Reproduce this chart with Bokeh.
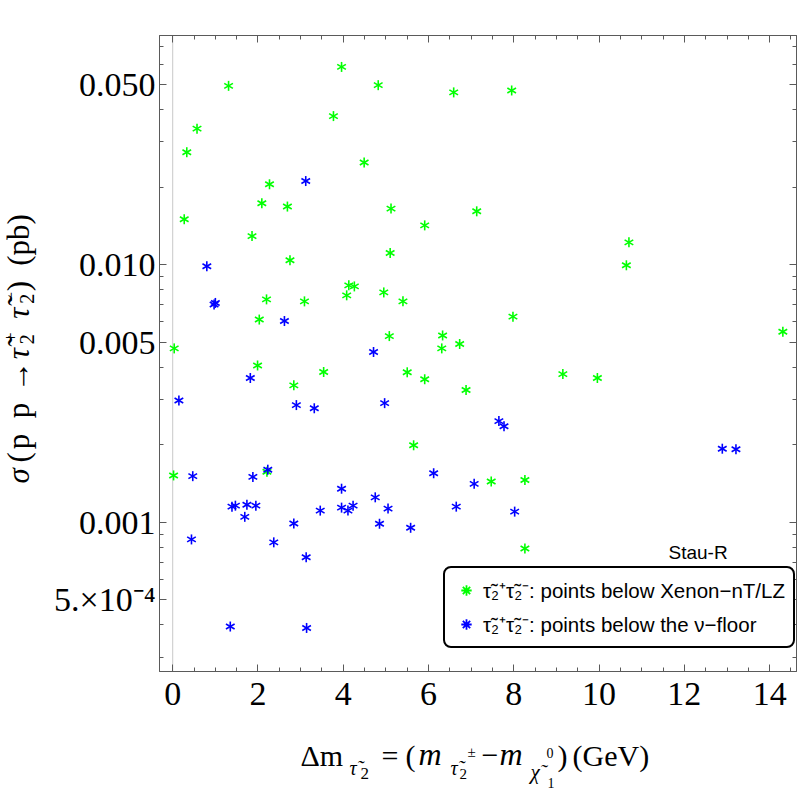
import math
from bokeh.plotting import figure
from bokeh.layouts import row, column
from bokeh.models import (ColumnDataSource, Label, Legend, LegendItem, LinearAxis, LogAxis,
                          SingleIntervalTicker, FixedTicker, CustomJSTickFormatter, Span, Range1d)
from bokeh.embed import file_html
from bokeh.resources import INLINE

# ---------------- data ----------------
green_dm = [3.96, 4.82, 1.31, 3.77, 0.57, 0.33, 4.49, 2.27, 0.27, 2.09, 2.69, 1.86, 2.75,
            6.59, 7.95, 5.12, 5.91, 7.13, 5.10, 10.70, 10.64, 4.13, 4.26, 4.08, 4.95, 5.40,
            2.20, 3.09, 2.03, 5.08, 0.035, 1.99, 3.54, 2.84, 7.98, 6.33, 6.31, 6.73, 5.50,
            5.91, 6.88, 9.15, 9.96, 5.65, 14.31, 0.02, 2.21, 7.47, 8.26, 8.26]
green_sigma = [0.0585, 0.0497, 0.0494, 0.0377, 0.0337, 0.0273, 0.0249, 0.0205, 0.0150, 0.0173,
               0.0168, 0.0129, 0.0104, 0.0466, 0.0474, 0.0165, 0.0142, 0.0161, 0.0111, 0.0122,
               0.00994, 0.00831, 0.00823, 0.0076, 0.0078, 0.0072, 0.00733, 0.0072, 0.00612,
               0.00528, 0.00473, 0.00406, 0.00383, 0.0034, 0.00628, 0.00531, 0.00473, 0.00492,
               0.00382, 0.00359, 0.00326, 0.00376, 0.00363, 0.00199, 0.00549, 0.00152, 0.00157,
               0.00144, 0.00146, 0.000791]

blue_dm = [3.12, 0.80, 0.97, 1.00, 2.62, 4.71, 1.82, 0.145, 2.90, 3.32, 4.97, 7.65, 7.77,
           0.47, 1.88, 2.23, 3.96, 1.39, 1.47, 1.74, 1.95, 1.69, 3.46, 3.96, 4.11, 4.23, 4.75,
           5.05, 2.84, 4.85, 0.44, 2.37, 3.13, 1.35, 3.14, 6.12, 7.07, 6.65, 8.02, 5.58, 8.85,
           9.42, 12.89, 13.21]
blue_sigma = [0.0211, 0.00985, 0.0070, 0.0071, 0.00604, 0.00458, 0.00363, 0.00297, 0.00285,
              0.00277, 0.0029, 0.00247, 0.00236, 0.00151, 0.00150, 0.0016, 0.00135, 0.00115,
              0.00116, 0.00117, 0.00116, 0.00105, 0.00111, 0.00114, 0.00111, 0.00116, 0.00125,
              0.00113, 0.000989, 0.000987, 0.000858, 0.000836, 0.000732, 0.000394, 0.000389,
              0.00155, 0.00141, 0.00115, 0.00110, 0.000952, 0.000435, 0.000433, 0.00193, 0.00192]

x_tick_values = [0, 2, 4, 6, 8, 10, 12, 14]
y_tick_values = [0.0005, 0.001, 0.005, 0.01, 0.05]
y_tick_labels = ["5.×10⁻⁴", "0.001", "0.005", "0.010", "0.050"]
y_minor_values = [0.0003, 0.0004, 0.0006, 0.0007, 0.0008, 0.0009, 0.002, 0.003, 0.004,
                  0.006, 0.007, 0.008, 0.009, 0.02, 0.03, 0.04, 0.06, 0.07]
legend_labels = ["τ̃₂⁺τ̃₂⁻: points below Xenon−nT/LZ",
                 "τ̃₂⁺τ̃₂⁻: points below the ν−floor"]
panel_label = "Stau-R"

GREEN = "#00ff00"
BLUE = "#0000ff"
FRAME = "#5a5a5a"
SERIF = "Liberation Serif"
SANS = "Liberation Sans"
BASE_SHIFT = 0.35      # label anchor -> visible baseline offset, as a fraction of font size

# layout geometry (page pixels)
TOTAL_W, TOTAL_H = 798, 798
LEFT_W = 44            # strip holding the y-axis title
MAIN_H = 721           # main figure height
FL, FT, FR, FB = 159, 35, 796, 671   # frame edges in page pixels

p = figure(width=TOTAL_W - LEFT_W, height=MAIN_H,
           x_range=Range1d(-0.31, 14.63), y_range=Range1d(2.636e-4, 0.07747),
           y_axis_type="log", x_axis_location=None, y_axis_location=None,
           output_backend="svg", toolbar_location=None,
           min_border_left=FL - LEFT_W, min_border_right=TOTAL_W - FR,
           min_border_top=FT, min_border_bottom=MAIN_H - FB)
p.outline_line_color = FRAME
p.background_fill_color = "white"
p.border_fill_color = "white"
p.xgrid.visible = False
p.ygrid.visible = False

xt = SingleIntervalTicker(interval=2, num_minor_ticks=4)
yt = FixedTicker(ticks=y_tick_values, minor_ticks=y_minor_values)
yfmt = CustomJSTickFormatter(args=dict(vals=y_tick_values, labs=y_tick_labels), code="""
for (let i = 0; i < vals.length; i++) {
  if (Math.abs(tick - vals[i]) / vals[i] < 1e-6) { return labs[i]; }
}
return "";
""")
blank = CustomJSTickFormatter(code="return '';")


def style_axis(ax, show):
    ax.axis_line_color = FRAME
    ax.major_tick_line_color = FRAME
    ax.minor_tick_line_color = FRAME
    ax.major_tick_in = 7
    ax.major_tick_out = 0
    ax.minor_tick_in = 4
    ax.minor_tick_out = 0
    ax.axis_label = None
    if show:
        ax.major_label_text_font = SERIF
        ax.major_label_text_font_size = "34px"
        ax.major_label_text_color = "black"
    else:
        ax.major_label_text_font_size = "0px"
        ax.major_label_standoff = 0


ax_b = LinearAxis(ticker=xt)
style_axis(ax_b, True)
ax_b.major_label_standoff = 11
ax_t = LinearAxis(ticker=xt, formatter=blank)
style_axis(ax_t, False)
ax_l = LogAxis(ticker=yt, formatter=yfmt)
style_axis(ax_l, True)
ax_l.major_label_standoff = 4
ax_r = LogAxis(ticker=yt, formatter=blank)
style_axis(ax_r, False)
p.add_layout(ax_b, "below")
p.add_layout(ax_t, "above")
p.add_layout(ax_l, "left")
p.add_layout(ax_r, "right")

p.add_layout(Span(location=0, dimension="height", line_color="#c8c8c8", line_width=1,
                  level="underlay"))

gsrc = ColumnDataSource(dict(x=green_dm, y=green_sigma))
bsrc = ColumnDataSource(dict(x=blue_dm, y=blue_sigma))
angles = [math.pi / 2, math.pi / 6, -math.pi / 6]
for a in angles:
    p.scatter("x", "y", source=gsrc, marker="dash", angle=a, size=10,
              line_color=GREEN, line_width=1.6, level="overlay")
for a in angles:
    p.scatter("x", "y", source=bsrc, marker="dash", angle=a, size=10,
              line_color=BLUE, line_width=1.6, level="overlay")

# legend glyphs: legend markers are never rotated, so an asterisk of size 0 in the plot
# (drawn at a fixed size inside the legend) stands in for the six-armed star
g_leg = p.scatter("x", "y", source=gsrc, marker="asterisk", size=0,
                  line_color=GREEN, line_width=1.8)
b_leg = p.scatter("x", "y", source=bsrc, marker="asterisk", size=0,
                  line_color=BLUE, line_width=1.8)

legend = Legend(items=[LegendItem(label=legend_labels[0], renderers=[g_leg]),
                       LegendItem(label=legend_labels[1], renderers=[b_leg])],
                location=(443 - FL, FB - 648), margin=0, padding=8, spacing=6,
                glyph_width=26, glyph_height=26, label_height=26, label_standoff=4,
                label_text_font=SANS, label_text_font_size="20.5px",
                label_text_color="black",
                border_line_color="black", border_line_width=2, border_line_alpha=1,
                background_fill_color="white", background_fill_alpha=1)
if "border_radius" in Legend.properties():
    legend.border_radius = 8
p.add_layout(legend)

p.add_layout(Label(x=668 - FL, y=FB - (558.5 - BASE_SHIFT * 19), x_units="screen",
                   y_units="screen", text=panel_label, text_font=SANS,
                   text_font_size="19px", text_baseline="alphabetic", text_color="black"))


# ---------------- helper strips carrying the axis titles ----------------
def strip(w, h):
    f = figure(width=w, height=h, x_range=Range1d(0, w), y_range=Range1d(0, h),
               x_axis_location=None, y_axis_location=None, output_backend="svg",
               toolbar_location=None, min_border=0)
    f.outline_line_color = None
    f.xgrid.visible = False
    f.ygrid.visible = False
    f.background_fill_color = "white"
    f.border_fill_color = "white"
    return f


left = strip(LEFT_W, MAIN_H)
bottom = strip(TOTAL_W, TOTAL_H - MAIN_H)


def piece(fig, x0, y0, h, txt, xi, yi, size, style="normal", angle=0.0, font=SERIF):
    fig.add_layout(Label(x=xi - x0, y=y0 + h - yi, text=txt, text_font=font,
                         text_font_size=f"{size}px", text_font_style=style,
                         text_baseline="alphabetic", text_align="left", angle=angle,
                         text_color="black"))


def xp(txt, xi, yi, size, style="normal"):
    # xi: left edge, yi: baseline (page pixels)
    piece(bottom, 0, MAIN_H, TOTAL_H - MAIN_H, txt, xi, yi - BASE_SHIFT * size, size, style)


def yp(txt, xi, yi, size, style="normal"):
    # xi: baseline, yi: start of the text (page pixels), reading upwards
    piece(left, 0, 0, MAIN_H, txt, xi - BASE_SHIFT * size, yi, size, style, math.pi / 2)


# x-axis title: Δm_τ̃2 = (m_τ̃2± − m_χ̃1⁰) (GeV)
xp("Δm", 300, 765, 30)
xp("τ̃", 349, 774, 20, "italic")
xp("2", 360, 779, 17)
xp("=", 381, 765, 30)
xp("(", 405, 765, 30)
xp("m", 418, 765, 32, "italic")
xp("τ̃", 450, 774, 20, "italic")
xp("2", 459, 779, 15)
xp("±", 467, 757, 15)
xp("−", 481, 765, 30)
xp("m", 499, 765, 32, "italic")
xp("χ̃", 530, 779, 21, "italic")
xp("0", 546, 757, 14)
xp("1", 547, 787, 14)
xp(")", 557, 765, 30)
xp("(GeV)", 572, 765, 30)

# y-axis title (rotated): σ (p p → τ̃2+ τ̃2−)(pb)
XB = 28.5
yp("σ", XB, 508, 31, "italic")
yp("(", XB, 484, 31)
yp("p", XB, 469, 31)
yp("p", XB, 434, 31)
yp("→", XB, 404, 31)
yp("τ̃", XB, 367, 31, "italic")
yp("2", XB + 5, 350, 20)
yp("+", 16, 348, 18)
yp("τ̃", XB, 321, 31, "italic")
yp("2", XB + 5, 304, 20)
yp("−", 16, 302, 18)
yp(")", XB, 290, 31)
yp("(pb)", XB, 261, 31)

layout = column(row(left, p), bottom)
open("out.html", "w").write(file_html(layout, INLINE))
